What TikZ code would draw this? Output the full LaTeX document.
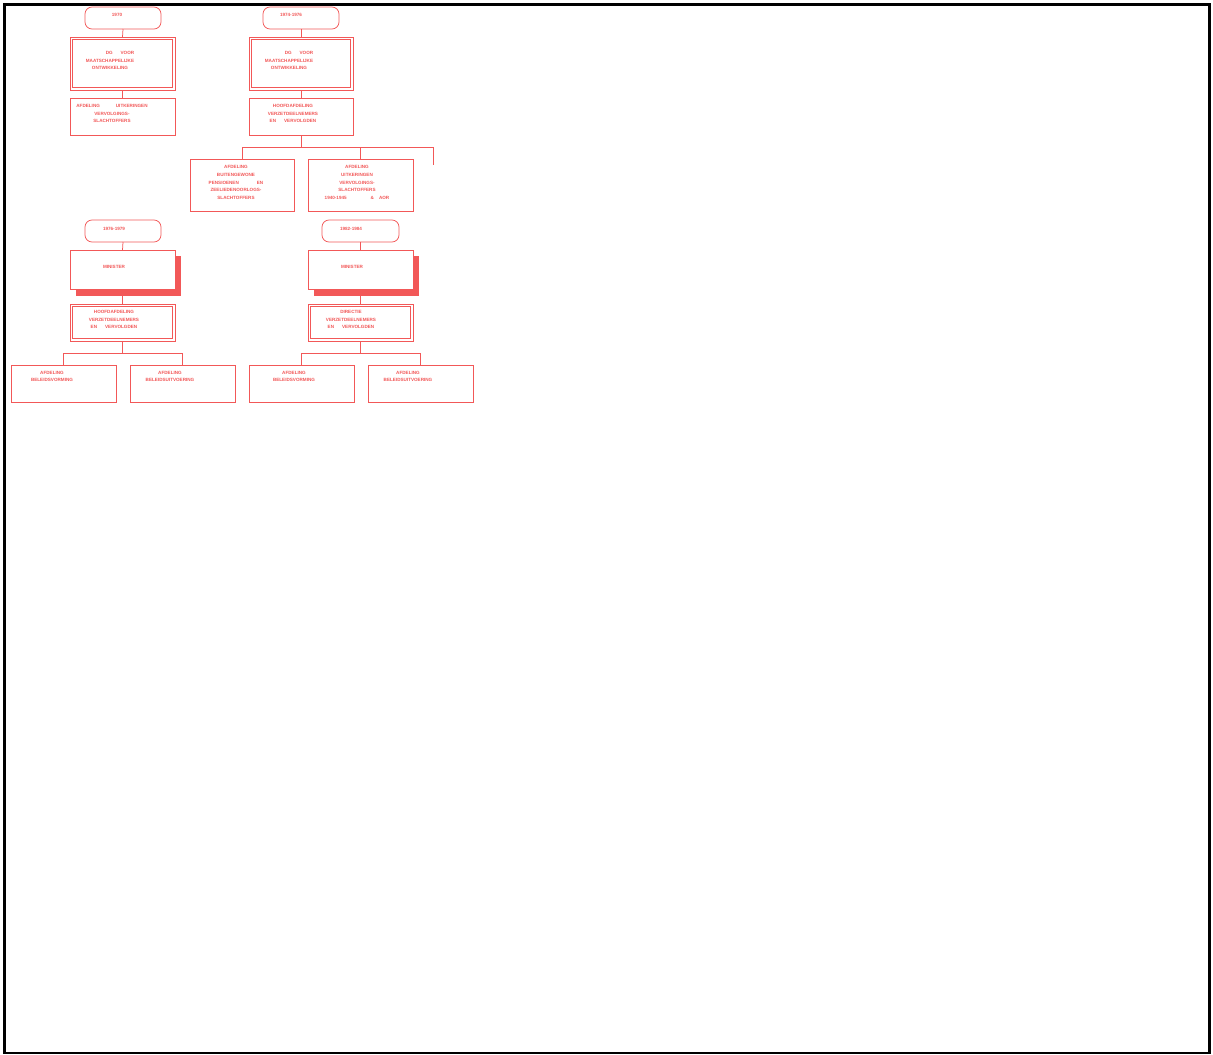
\documentclass[tikz,border=0pt]{standalone}
\usepackage{fontspec}
\setmainfont{Liberation Sans}
\definecolor{orgred}{RGB}{242,88,88}
\begin{document}
\begin{tikzpicture}[x=1pt,y=-1pt,
  box/.style={draw=orgred,line width=0.75pt,fill=white,inner sep=0pt,outer sep=0pt,minimum width=105pt,minimum height=37pt},
  yearbox/.style={box,rounded corners=7pt,minimum width=76pt,minimum height=22pt},
  dbox/.style={box},
  shadowed/.style={box,minimum height=39pt},
  inner/.style={draw=orgred,line width=0.75pt},
  txt/.style={text=orgred,font=\fontsize{4.6}{7.6}\selectfont\bfseries,align=center,inner sep=0pt},
  conn/.style={draw=orgred,line width=0.75pt}]
\useasboundingbox (0,0) rectangle (1213,1055);
\draw[black,line width=2.6pt] (4.5,4.5) rectangle (1209.5,1053);

% column A
\node[yearbox] (a1) at (123,18) {};
\node[dbox,minimum height=53pt] (a2) at (122.5,63.5) {};
\draw[inner] ([shift={(2.5,2.5)}]a2.north west) rectangle ([shift={(-2.5,-2.5)}]a2.south east);
\node[box] (a3) at (122.5,116.5) {};
\draw[conn] (a1.south) -- (a2.north);
\draw[conn] (a2.south) -- (a3.north);
\node[txt] (ta1) at (117,15) {1970};
\node[txt] (ta2) at (110,60.5) {\hspace*{20pt}DG\hspace{8pt}VOOR\\MAATSCHAPPELIJKE\\ONTWIKKELING};
\node[txt] (ta3) at (112,113.5) {AFDELING\hspace{16pt}UITKERINGEN\\VERVOLGINGS-\\SLACHTOFFERS};

% column B
\node[yearbox] (b1) at (301,18) {};
\node[dbox,minimum width=104pt,minimum height=53pt] (b2) at (301,63.5) {};
\draw[inner] ([shift={(2.5,2.5)}]b2.north west) rectangle ([shift={(-2.5,-2.5)}]b2.south east);
\node[box,minimum width=104pt] (b3) at (301,116.5) {};
\node[box,minimum width=104pt,minimum height=52pt] (b4) at (242,185) {};
\node[box,minimum height=52pt] (b5) at (360.5,185) {};
\draw[conn] (b1.south) -- (b2.north);
\draw[conn] (b2.south) -- (b3.north);
\coordinate (bj) at (301,147);
\coordinate (bl) at (242,147);
\coordinate (br) at (433,147);
\coordinate (bend) at (433,165);
\draw[conn] (b3.south) -- (bj);
\draw[conn] (bl) -- (br) -- (bend);
\draw[conn] (bl) -- (b4.north);
\draw[conn] (bj -| b5.north) -- (b5.north);
\node[txt] (tb1) at (291,15) {1974-1976};
\node[txt] (tb2) at (289,60.5) {\hspace*{20pt}DG\hspace{8pt}VOOR\\MAATSCHAPPELIJKE\\ONTWIKKELING};
\node[txt] (tb3) at (293,113.5) {HOOFDAFDELING\\VERZETDEELNEMERS\\EN\hspace{8pt}VERVOLGDEN};
\node[txt] (tb4) at (236,182.5) {AFDELING\\BUITENGEWONE\\PENSIOENEN\hspace{18pt}EN\\ZEELIEDENOORLOGS-\\SLACHTOFFERS};
\node[txt] (tb5) at (357,182.5) {AFDELING\\UITKERINGEN\\VERVOLGINGS-\\SLACHTOFFERS\\1940-1945\hspace{24pt}\&\hspace{5pt}AOR};

% column C
\node[yearbox] (c1) at (123,231) {};
\fill[orgred] (75.5,255.5) rectangle (180.5,295.5);
\node[shadowed] (c2) at (122.5,269.5) {};
\node[dbox] (c3) at (122.5,322.5) {};
\draw[inner] ([shift={(2.5,2.5)}]c3.north west) rectangle ([shift={(-2.5,-2.5)}]c3.south east);
\node[box] (c4) at (63.5,383.5) {};
\node[box] (c5) at (182.5,383.5) {};
\draw[conn] (c1.south) -- (c2.north);
\draw[conn] (c2.south) -- (c3.north);
\draw[conn] (c3.south) -- ++(0,12) -| (c4.north);
\draw[conn] (c3.south) ++(0,12) -| (c5.north);
\node[txt] (tc1) at (114,229) {1976-1979};
\node[txt] (tc2) at (114,266.5) {MINISTER};
\node[txt] (tc3) at (114,319.5) {HOOFDAFDELING\\VERZETDEELNEMERS\\EN\hspace{8pt}VERVOLGDEN};
\node[txt] (tc4) at (52,376.5) {AFDELING\\BELEIDSVORMING};
\node[txt] (tc5) at (170,376.5) {AFDELING\\BELEIDSUITVOERING};

% column D
\node[yearbox,minimum width=77pt] (d1) at (360.5,231) {};
\fill[orgred] (313.5,255.5) rectangle (418.5,295.5);
\node[shadowed] (d2) at (360.5,269.5) {};
\node[dbox] (d3) at (360.5,322.5) {};
\draw[inner] ([shift={(2.5,2.5)}]d3.north west) rectangle ([shift={(-2.5,-2.5)}]d3.south east);
\node[box] (d4) at (301.5,383.5) {};
\node[box] (d5) at (420.5,383.5) {};
\draw[conn] (d1.south) -- (d2.north);
\draw[conn] (d2.south) -- (d3.north);
\draw[conn] (d3.south) -- ++(0,12) -| (d4.north);
\draw[conn] (d3.south) ++(0,12) -| (d5.north);
\node[txt] (td1) at (351,229) {1982-1984};
\node[txt] (td2) at (352,266.5) {MINISTER};
\node[txt] (td3) at (351,319.5) {DIRECTIE\\VERZETDEELNEMERS\\EN\hspace{8pt}VERVOLGDEN};
\node[txt] (td4) at (294,376.5) {AFDELING\\BELEIDSVORMING};
\node[txt] (td5) at (408,376.5) {AFDELING\\BELEIDSUITVOERING};
\end{tikzpicture}
\end{document}
